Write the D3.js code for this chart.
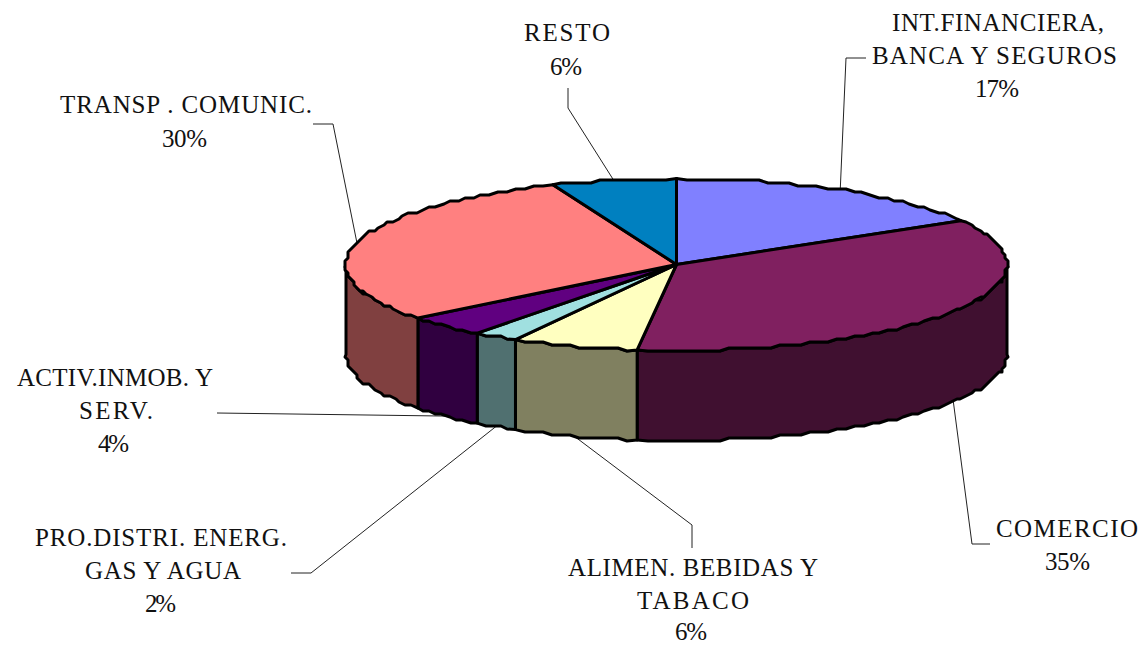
<!DOCTYPE html>
<html><head><meta charset="utf-8">
<script src="https://cdnjs.cloudflare.com/ajax/libs/d3/7.8.5/d3.min.js"></script>
<style>html,body{margin:0;padding:0;background:#fff}svg{display:block}
text{font-family:"Liberation Serif",serif;font-size:25px;fill:#111}</style>
</head><body><svg id="c" width="1142" height="646"></svg>
<script>
const categories = ["INT.FINANCIERA, BANCA Y SEGUROS","COMERCIO","ALIMEN. BEBIDAS Y TABACO","PRO.DISTRI. ENERG. GAS Y AGUA","ACTIV.INMOB. Y SERV.","TRANSP . COMUNIC.","RESTO"];
const values = [16.5,35.4,6.2,2.2,4.0,29.6,6.1];
const topColors = ["#8080ff","#802060","#ffffc0","#a0e0e0","#600080","#ff8080","#0080c0"];
const sideColors = ["#404080","#401030","#808060","#507070","#300040","#804040","#004060"];
const labelLines = [["INT.FINANCIERA,","BANCA Y SEGUROS","17%"],["COMERCIO","35%"],["ALIMEN. BEBIDAS Y","TABACO","6%"],["PRO.DISTRI. ENERG.","GAS Y AGUA","2%"],["ACTIV.INMOB. Y","SERV.","4%"],["TRANSP . COMUNIC.","30%"],["RESTO","6%"]];
// layout of the labels: [left, right, baseline] for each line, and the elbow of each leader
const labelBoxes = [
 [[892,1104,31],[872,1117,64],[975,1019,97]],
 [[996,1138,537],[1045,1090,570]],
 [[568,818,576],[637,749,609],[675,707,640]],
 [[35,287,546],[85,241,579],[145,176,612]],
 [[17,213,386],[79,153,419],[98,129,452]],
 [[60,312,113],[162,207,147]],
 [[524,610,41],[550,582,75]]];
const leaderElbows = [
 [[846,58],[866,58]],
 [[972,544],[990,544]],
 [[692,525],[692,548]],
 [[311,573],[291,573]],
 [[217,413]],
 [[333,124],[313,124]],
 [[568,108],[568,88]]];

const svg = d3.select("#c");
const cx=676.5, cy=264.5, rx=330.5, ry=86, depth=90;
const sx = d3.scaleLinear().domain([-1,1]).range([cx-rx,cx+rx]);
const sy = d3.scaleLinear().domain([-1,1]).range([cy-ry,cy+ry]);
const pie = d3.pie().sort(null).value(d=>d);
const arcs = pie(values);
const step = 3; // grid of the rim's stepped outline
const snap = v => Math.round(v/step)*step;
const rim = (a) => [snap(sx(Math.sin(a))), snap(sy(-Math.cos(a)))];
const rimExact = (a,dy=0) => [sx(Math.sin(a)), sy(-Math.cos(a))+dy];
function samples(a0,a1){
  const n=Math.max(1,Math.ceil((a1-a0)/(Math.PI/100))), o=[];
  for(let i=0;i<=n;i++){
    const a=a0+(a1-a0)*i/n;
    o.push(i===0||i===n?rimExact(a):rim(a));
  }
  return o;
}
const line=d3.line();

// leaders
arcs.forEach((d,i)=>{
  const mid=(d.startAngle+d.endAngle)/2;
  const front=Math.cos(mid)<0;
  const start=rimExact(mid,front?depth:0);
  svg.append("path").attr("d",line([start,...leaderElbows[i]])).attr("fill","none").attr("stroke","#222").attr("stroke-width",1);
});

const stroke={stroke:"#000","stroke-width":3,"stroke-linejoin":"round"};
const sty=(s)=>{Object.entries(stroke).forEach(([k,v])=>s.attr(k,v));return s;};
// walls: only the near half of the rim
const F0=Math.PI/2, F1=3*Math.PI/2;
arcs.forEach((d,i)=>{
  const a0=Math.max(d.startAngle,F0), a1=Math.min(d.endAngle,F1);
  if(a1<=a0) return;
  const up=samples(a0,a1);
  const dn=up.map(p=>[p[0],p[1]+depth]).reverse();
  sty(svg.append("path").attr("d",line([...up,...dn])+"Z").attr("fill",sideColors[i]));
});
// tops
arcs.forEach((d,i)=>{
  sty(svg.append("path").attr("d",line([[cx,cy],...samples(d.startAngle,d.endAngle)])+"Z").attr("fill",topColors[i]));
});
// labels
labelLines.forEach((lines,i)=>{
  lines.forEach((t,j)=>{
    const b=labelBoxes[i][j];
    svg.append("text").attr("x",b[0]).attr("y",b[2]).attr("textLength",b[1]-b[0]).attr("lengthAdjust","spacing").text(t);
  });
});
</script></body></html>
